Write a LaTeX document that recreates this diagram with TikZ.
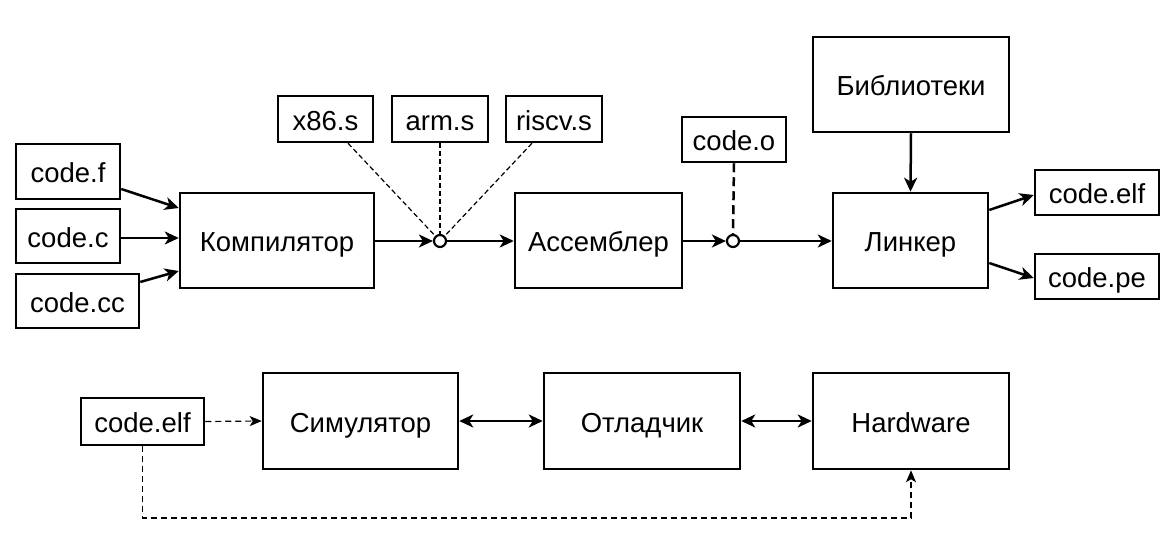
\documentclass[tikz,border=0pt]{standalone}
\usepackage{fontspec}
\setmainfont{Liberation Sans}
\usetikzlibrary{arrows.meta,calc}
\begin{document}
\begin{tikzpicture}[x=1pt,y=-1pt,
  box/.style={draw,line width=2.5pt,minimum width=#1,inner sep=0pt,text height=22.5pt,text depth=0pt,font=\fontsize{27.5}{32}\selectfont},
  junc/.style={draw,circle,line width=2.2pt,minimum size=12pt,inner sep=0pt,fill=white},
  arr/.style={line width=2.5pt,-{Stealth[length=14pt,width=13pt,inset=4pt]}},
  darr/.style={line width=2.5pt,{Stealth[length=14pt,width=13pt,inset=4pt]}-{Stealth[length=14pt,width=13pt,inset=4pt]}},
  thind/.style={line width=1.2pt,dash pattern=on 5pt off 3pt},
  thinarr/.style={line width=1.2pt,dash pattern=on 6pt off 4pt,-{Stealth[length=12pt,width=10pt,inset=3pt]}},
  thickd/.style={line width=2.5pt,dash pattern=on 9pt off 5pt}
]
\useasboundingbox (0,0) rectangle (1173,535);
% top row
\node[box=104pt,minimum height=55pt] (f) at (68,171.5) {code.f};
\node[box=104pt,minimum height=54pt] (c) at (68,236) {code.c};
\node[box=123pt,minimum height=54pt] (cc) at (77.5,301) {code.cc};
\node[box=194pt,minimum height=95pt] (comp) at (277,240.5) {Компилятор};
\node[box=95pt,minimum height=46pt] (x86) at (325.5,119) {x86.s};
\node[box=96pt,minimum height=46pt] (arm) at (440,119) {arm.s};
\node[box=96pt,minimum height=46pt] (riscv) at (554,119) {riscv.s};
\node[junc] (j1) at (440,241) {};
\node[box=167pt,minimum height=95pt] (asm) at (598.5,240.5) {Ассемблер};
\node[box=104pt,minimum height=45pt] (codeo) at (734,139.5) {code.o};
\node[junc] (j2) at (733,241) {};
\node[box=155pt,minimum height=95pt] (link) at (910.5,240.5) {Линкер};
\node[box=196pt,minimum height=95pt] (lib) at (911,84.5) {Библиотеки};
\node[box=124pt,minimum height=45pt] (elf) at (1097,192.5) {code.elf};
\node[box=124pt,minimum height=45pt] (pe) at (1097,276.5) {code.pe};
% bottom row
\node[box=123pt,minimum height=47pt] (elfb) at (142.5,421.5) {code.elf};
\node[box=195pt,minimum height=96pt] (sim) at (360.5,421) {Симулятор};
\node[box=196pt,minimum height=96pt] (dbg) at (642,421) {Отладчик};
\node[box=196pt,minimum height=96pt] (hw) at (911,421) {Hardware};
% top connectors
\draw[arr] (f.east |- 0,189) -- (comp.west |- 0,208);
\draw[arr] (c.east |- 0,238) -- (comp.west |- 0,238);
\draw[arr] (cc.east |- 0,282) -- (comp.west |- 0,271);
\draw[arr] (comp.east |- j1) -- (j1.west);
\draw[arr] (j1.east) -- (asm.west |- j1);
\draw[arr] (asm.east |- j2) -- (j2.west);
\draw[arr] (j2.east) -- (link.west |- j2);
\draw[arr] (lib.south) -- (link.north);
\draw[arr] (link.east |- 0,210) -- (elf.west |- 0,195);
\draw[arr] (link.east |- 0,263) -- (pe.west |- 0,278);
\draw[thind] ($(x86.south)+(22.5,0)$) -- (j1);
\draw[thind] (arm.south) -- (j1.north);
\draw[thind] ($(riscv.south)+(-22,0)$) -- (j1);
\draw[thickd] (codeo.south) -- (j2.north);
% bottom connectors
\draw[thinarr] (elfb.east) -- (sim.west);
\draw[darr] (sim.east) -- (dbg.west);
\draw[darr] (dbg.east) -- (hw.west);
\draw[thinarr] (elfb.south) -- (elfb.south |- 0,518) -| (hw.south);
\end{tikzpicture}
\end{document}
